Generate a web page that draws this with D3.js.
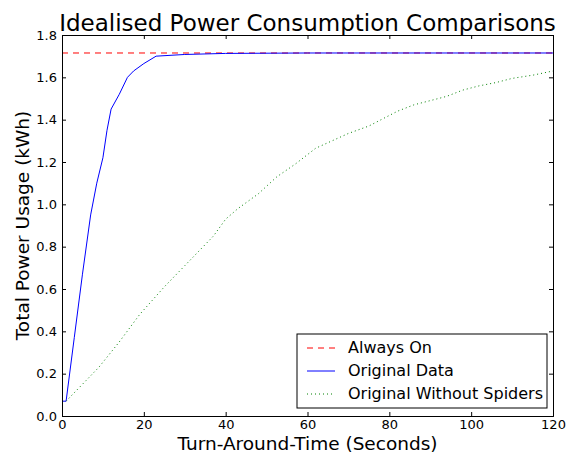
<!DOCTYPE html>
<html>
<head>
<meta charset="utf-8">
<script src="https://cdn.jsdelivr.net/npm/d3@7"></script>
<style>
  body { margin: 0; background: #fff; }
  text { font-family: "DejaVu Sans", sans-serif; fill: #000; }
</style>
</head>
<body>
<svg id="chart" width="569" height="453"></svg>
<script>
// values
const alwaysOn = [[0, 1.715], [120, 1.715]];
const originalData = [
  [0, 0.07], [1, 0.07], [3, 0.37], [5, 0.67], [7, 0.95], [8.5, 1.10], [10, 1.22],
  [11, 1.35], [12, 1.45], [14, 1.52], [16, 1.60], [17.5, 1.63], [20, 1.665],
  [23, 1.70], [30, 1.708], [40, 1.713], [60, 1.715], [120, 1.715]
];
const withoutSpiders = [
  [0, 0.07], [1, 0.07], [5, 0.15], [9, 0.23], [14, 0.35], [19, 0.48], [25, 0.61],
  [30, 0.71], [34, 0.79], [37, 0.85], [40, 0.93], [43, 0.98], [48, 1.05],
  [52.5, 1.13], [57, 1.19], [62, 1.265], [66, 1.30], [70, 1.335], [75, 1.37],
  [78, 1.40], [82, 1.44], [86, 1.47], [90, 1.49], [94, 1.51], [98, 1.54],
  [102, 1.56], [106, 1.575], [110, 1.595], [115, 1.61], [120, 1.63]
];
const xTicks = [0, 20, 40, 60, 80, 100, 120];
const yTicks = [0, 0.2, 0.4, 0.6, 0.8, 1.0, 1.2, 1.4, 1.6, 1.8];
const legendLabels = ['Always On', 'Original Data', 'Original Without Spiders'];

const margin = { left: 62, right: 16, top: 35, bottom: 37 };
const width = 569, height = 453;

const svg = d3.select('#chart');
const x = d3.scaleLinear().domain([0, 120]).range([margin.left, width - margin.right]);
const y = d3.scaleLinear().domain([0, 1.8]).range([height - margin.bottom, margin.top]);

const line = d3.line().x((d) => x(d[0])).y((d) => y(d[1]));

const series = [
  { data: alwaysOn, color: '#ff0000', dash: '6,5' },
  { data: originalData, color: '#0000ff', dash: null },
  { data: withoutSpiders, color: '#008000', dash: '1,3' }
];

series.forEach((s) => {
  svg.append('path').datum(s.data).attr('d', line)
    .attr('fill', 'none').attr('stroke', s.color).attr('stroke-width', 1)
    .attr('stroke-dasharray', s.dash);
});

// axes, ticks inward on all four sides
const tick = 4;
const axBottom = svg.append('g').attr('transform', `translate(0,${y(0)})`)
  .call(d3.axisBottom(x).tickValues(xTicks).tickSize(-tick).tickPadding(4).tickFormat(d3.format('d')));
const axTop = svg.append('g').attr('transform', `translate(0,${y(1.8)})`)
  .call(d3.axisTop(x).tickValues(xTicks).tickSize(-tick).tickFormat(''));
const axLeft = svg.append('g').attr('transform', `translate(${x(0)},0)`)
  .call(d3.axisLeft(y).tickValues(yTicks).tickSize(-tick).tickPadding(5).tickFormat(d3.format('.1f')));
const axRight = svg.append('g').attr('transform', `translate(${x(120)},0)`)
  .call(d3.axisRight(y).tickValues(yTicks).tickSize(-tick).tickFormat(''));

[axBottom, axTop, axLeft, axRight].forEach((g) => {
  g.select('.domain').attr('stroke', '#000').attr('stroke-width', 1);
  g.selectAll('.tick line').attr('stroke', '#000');
  g.selectAll('text').attr('font-size', 13).attr('font-family', 'DejaVu Sans');
});

svg.append('text').attr('x', (x(0) + x(120)) / 2).attr('y', 31)
  .attr('text-anchor', 'middle').attr('font-size', 23)
  .text('Idealised Power Consumption Comparisons');

svg.append('text').attr('x', (x(0) + x(120)) / 2).attr('y', 450)
  .attr('text-anchor', 'middle').attr('font-size', 18.5)
  .text('Turn-Around-Time (Seconds)');

svg.append('text').attr('transform', `translate(29,${(y(0) + y(1.8)) / 2}) rotate(-90)`)
  .attr('text-anchor', 'middle').attr('font-size', 18.5)
  .text('Total Power Usage (kWh)');

// legend
const legend = svg.append('g').attr('transform', 'translate(297,334)');
legend.append('rect').attr('width', 250).attr('height', 74)
  .attr('fill', '#fff').attr('stroke', '#000').attr('stroke-width', 1);
legendLabels.forEach((label, i) => {
  const ly = 14 + i * 23;
  legend.append('line').attr('x1', 10).attr('x2', 38).attr('y1', ly).attr('y2', ly)
    .attr('stroke', series[i].color).attr('stroke-dasharray', series[i].dash);
  legend.append('text').attr('x', 51).attr('y', ly + 5).attr('font-size', 16).text(label);
});
</script>
</body>
</html>
